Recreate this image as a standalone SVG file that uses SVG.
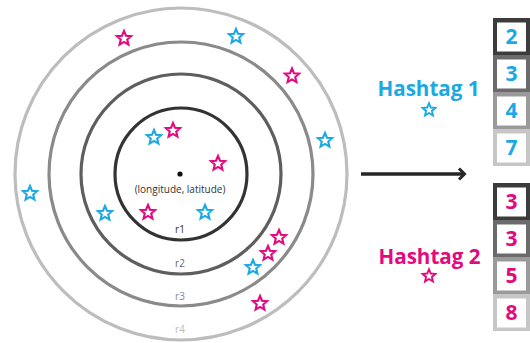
<svg xmlns="http://www.w3.org/2000/svg" width="530" height="343" viewBox="0 0 530 343">
  <style>
    .ring { fill: none; stroke-width: 3.2; }
    .rl { font-family: "Open Sans", "Liberation Sans", sans-serif; font-size: 10px; text-anchor: middle; }
    .b { stroke: #1aa9e4; fill: #fff; stroke-width: 2.1; stroke-linejoin: miter; }
    .m { stroke: #e3097f; fill: #fff; stroke-width: 2.1; stroke-linejoin: miter; }
    .ht { font-family: "Open Sans", "Liberation Sans", sans-serif; font-weight: bold; font-size: 20.6px; text-anchor: middle; }
    .num { font-family: "Open Sans", "Liberation Sans", sans-serif; font-weight: bold; font-size: 21px; text-anchor: middle; }
    .inner { fill: #fff; }
  </style>
  <defs>
    <path id="star" d="M0,-7.5 L2,-2.75 L7.13,-2.32 L3.23,1.05 L4.41,6.07 L0,3.4 L-4.41,6.07 L-3.23,1.05 L-7.13,-2.32 L-2,-2.75 Z"/>
  </defs>
  <rect width="530" height="343" fill="#fff"/>

  <g id="rings">
    <circle class="ring" cx="181" cy="174" r="166" stroke="#bdbdbd"/>
    <circle class="ring" cx="181" cy="174" r="132" stroke="#8a8a8a"/>
    <circle class="ring" cx="181" cy="174" r="100" stroke="#5e5e5e"/>
    <circle class="ring" cx="181" cy="174" r="66" stroke="#333"/>
    <circle cx="180" cy="174" r="2.6" fill="#111"/>
    <text class="rl" x="180" y="193" font-size="10.8" fill="#333">(longitude, latitude)</text>
    <text class="rl" x="180" y="233" fill="#333">r1</text>
    <text class="rl" x="180" y="267" fill="#666">r2</text>
    <text class="rl" x="180" y="300" fill="#888">r3</text>
    <text class="rl" x="180" y="333" fill="#bbb">r4</text>
  </g>

  <g id="stars">
    <use href="#star" class="m" x="124" y="38.5"/>
    <use href="#star" class="b" x="236" y="36.5"/>
    <use href="#star" class="m" x="292" y="76"/>
    <use href="#star" class="b" x="325" y="140.5"/>
    <use href="#star" class="b" x="154" y="137.5"/>
    <use href="#star" class="m" x="173" y="130.5"/>
    <use href="#star" class="m" x="218" y="163.5"/>
    <use href="#star" class="b" x="30" y="193.5"/>
    <use href="#star" class="b" x="105" y="213.5"/>
    <use href="#star" class="m" x="148" y="212.5"/>
    <use href="#star" class="b" x="205" y="212.5"/>
    <use href="#star" class="m" x="279" y="237.5"/>
    <use href="#star" class="m" x="268" y="253.5"/>
    <use href="#star" class="b" x="253" y="267.5"/>
    <use href="#star" class="m" x="260" y="303.5"/>
  </g>

  <g id="connectors">
    <line x1="361" y1="174" x2="463" y2="174" stroke="#262626" stroke-width="3.5"/>
    <polyline points="459,168.5 464.5,174 459,179.5" fill="none" stroke="#262626" stroke-width="3"/>
  </g>

  <g id="hashtag1">
    <text class="ht" x="428.5" y="96" fill="#1aa9e4">Hashtag 1</text>
    <use href="#star" class="b" transform="translate(429,110) scale(0.9)"/>
  </g>
  <g id="hashtag2">
    <text class="ht" x="429.5" y="264" fill="#e3097f">Hashtag 2</text>
    <use href="#star" class="m" transform="translate(429,276) scale(0.9)"/>
  </g>

  <g id="counts1">
    <rect x="493" y="18" width="37" height="37" fill="#3c3c3c"/>
    <rect class="inner" x="497" y="22.5" width="29" height="29"/>
    <rect x="493" y="55" width="37" height="37" fill="#6b6b6b"/>
    <rect class="inner" x="497" y="59.5" width="29" height="29"/>
    <rect x="493" y="92" width="37" height="37" fill="#9a9a9a"/>
    <rect class="inner" x="497" y="96.5" width="29" height="29"/>
    <rect x="493" y="129" width="37" height="37" fill="#c6c6c6"/>
    <rect class="inner" x="497" y="133.5" width="29" height="29"/>
    <text class="num" x="511.5" y="43.5" fill="#1aa9e4">2</text>
    <text class="num" x="511.5" y="80.5" fill="#1aa9e4">3</text>
    <text class="num" x="511.5" y="117.5" fill="#1aa9e4">4</text>
    <text class="num" x="511.5" y="154.5" fill="#1aa9e4">7</text>
  </g>

  <g id="counts2">
    <rect x="493" y="183" width="37" height="37" fill="#3c3c3c"/>
    <rect class="inner" x="497" y="187.5" width="29" height="29"/>
    <rect x="493" y="220" width="37" height="37" fill="#6b6b6b"/>
    <rect class="inner" x="497" y="224.5" width="29" height="29"/>
    <rect x="493" y="257" width="37" height="37" fill="#9a9a9a"/>
    <rect class="inner" x="497" y="261.5" width="29" height="29"/>
    <rect x="493" y="294" width="37" height="37" fill="#c6c6c6"/>
    <rect class="inner" x="497" y="298.5" width="29" height="29"/>
    <text class="num" x="511.5" y="208.5" fill="#e3097f">3</text>
    <text class="num" x="511.5" y="245.5" fill="#e3097f">3</text>
    <text class="num" x="511.5" y="282.5" fill="#e3097f">5</text>
    <text class="num" x="511.5" y="319.5" fill="#e3097f">8</text>
  </g>
</svg>
